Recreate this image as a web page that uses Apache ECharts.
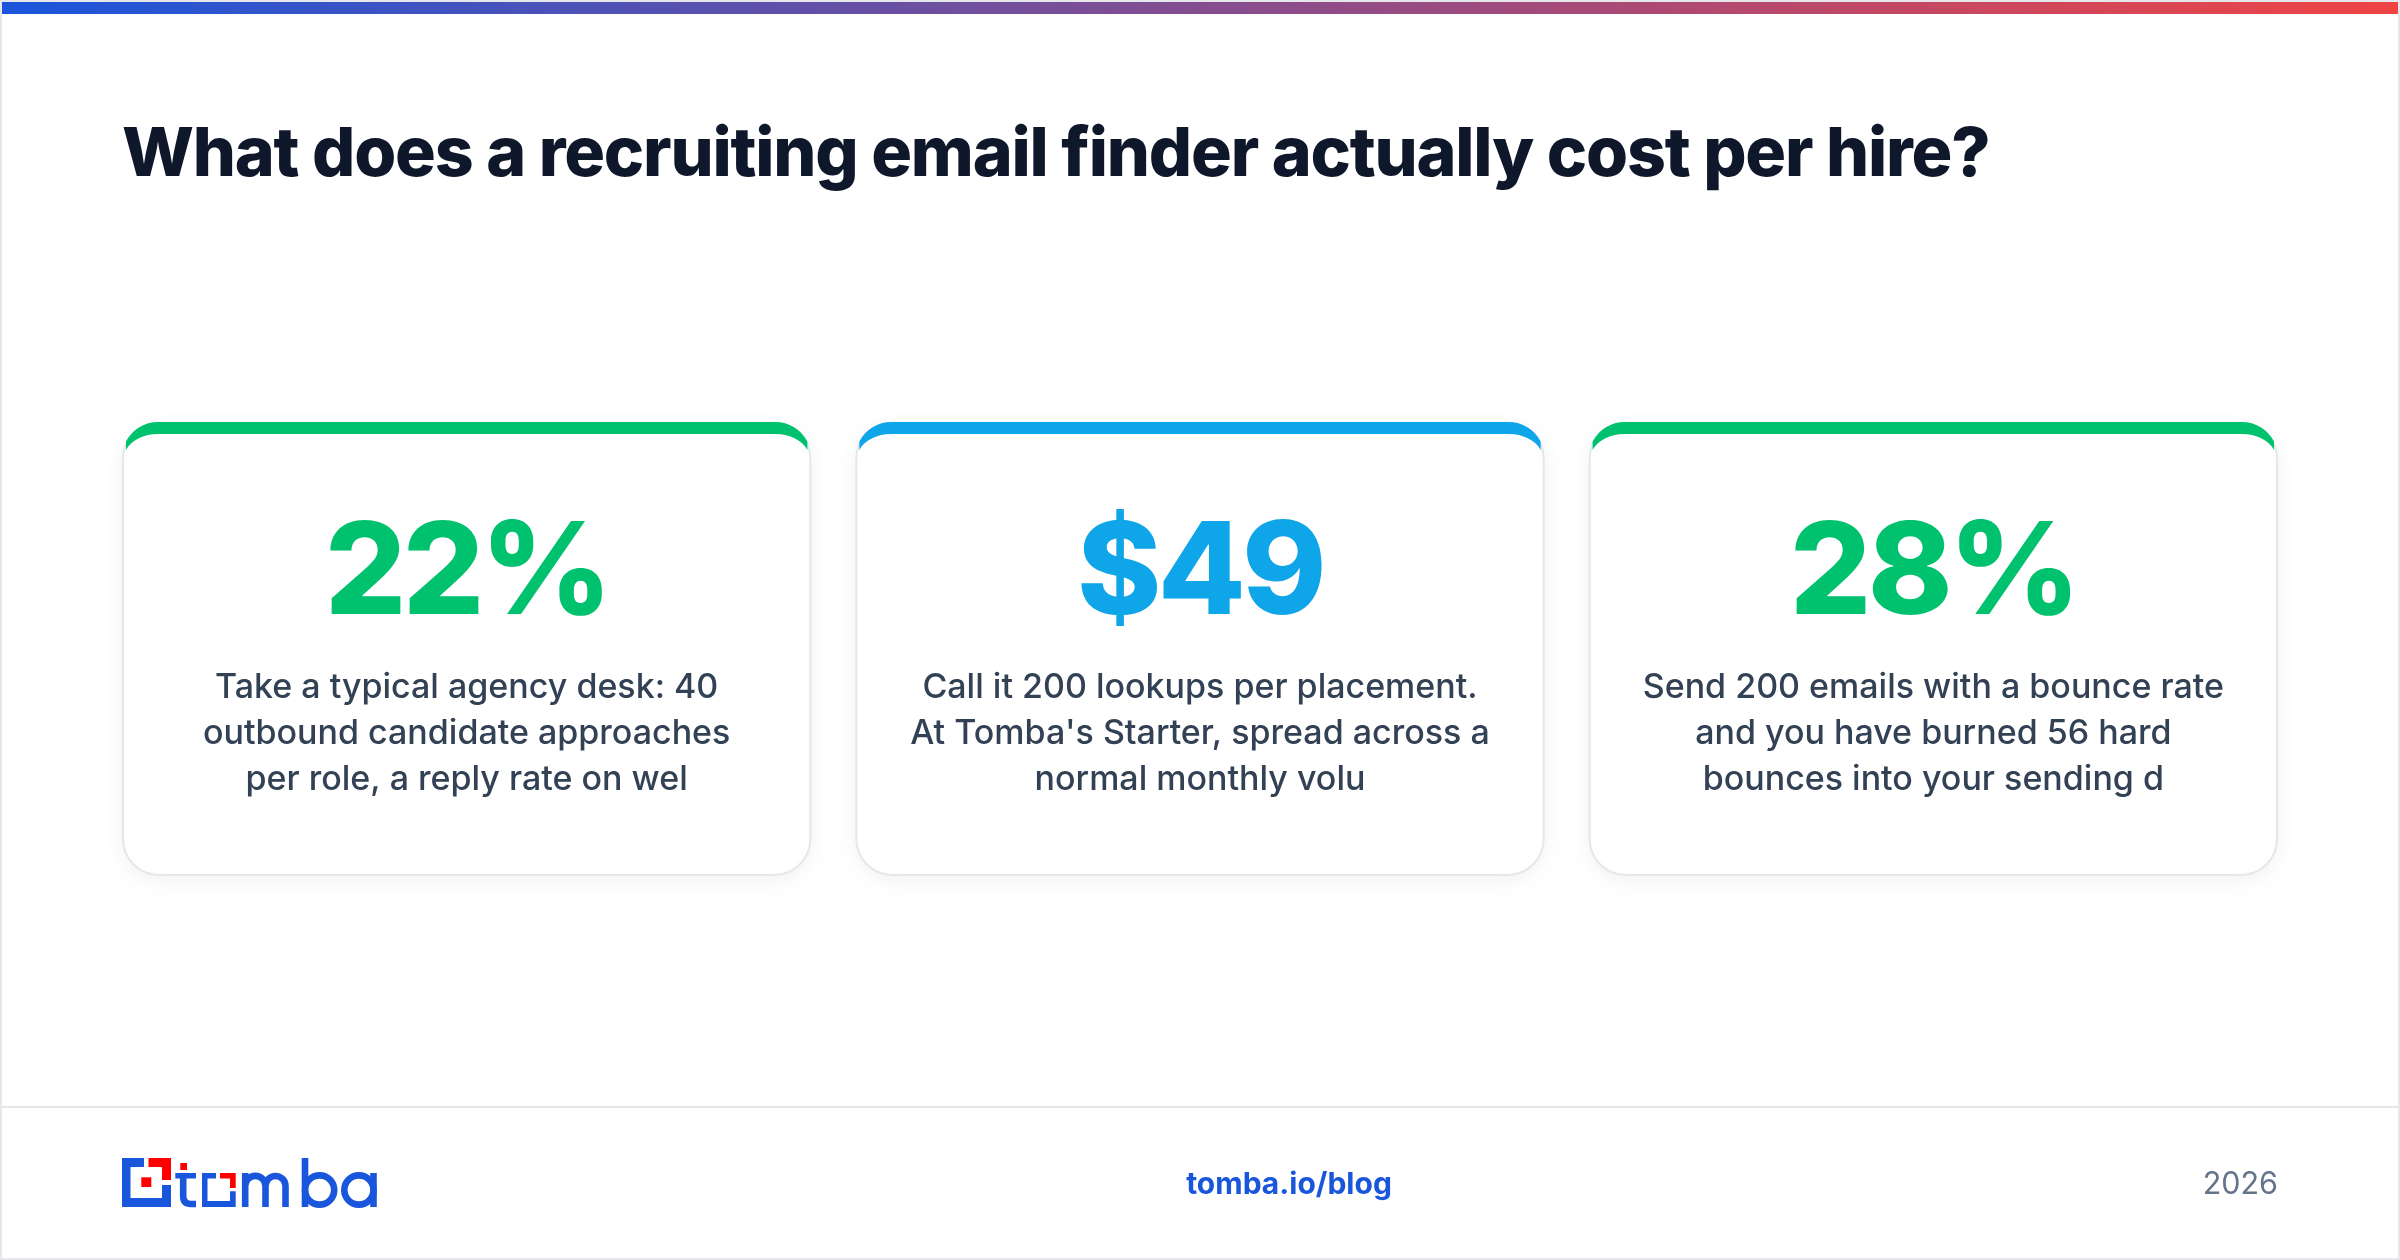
<!DOCTYPE html>
<html>
<head>
	<meta charset="utf-8">
	<title>Recruiting email finder cost</title>
	<style>html,body{margin:0;padding:0;background:#fff}#main{width:2400px;height:1260px}</style>
	<script src="https://cdn.jsdelivr.net/npm/echarts@6/dist/echarts.min.js"></script>
</head>
<body>
	<div id="main"></div>
<script>
	var titleText = 'What does a recruiting email finder actually cost per hire?';
	var statValues = ['22%', '$49', '28%'];
	var statColors = ['#00c26e', '#0ea5e9', '#00c26e'];
	var statLines = [
		['Take a typical agency desk: 40', 'outbound candidate approaches', 'per role, a reply rate on wel'],
		['Call it 200 lookups per placement.', "At Tomba's Starter, spread across a", 'normal monthly volu'],
		['Send 200 emails with a bounce rate', 'and you have burned 56 hard', 'bounces into your sending d']
	];
	var cardLeft = [122, 855.33, 1588.67];
	var cardWidth = 689.33;
	var footerLink = 'tomba.io/blog';
	var footerYear = '2026';

	var FONT = 'Inter';
	var BLUE = '#1a56db';
	var RED = '#ff0000';

	var els = [];
	var paths = [];
	// page frame
	els.push({type: 'rect', z: 1, shape: {x: 1, y: 1, width: 2398, height: 1258}, style: {fill: '#fff', stroke: '#e5e7eb', lineWidth: 2}});
	// top bar
	els.push({type: 'rect', z: 2, shape: {x: 2, y: 2, width: 2396, height: 12}, style: {fill: new echarts.graphic.LinearGradient(0, 0, 1, 0, [
		{offset: 0, color: '#1a56db'}, {offset: 1, color: '#ef4444'}])}});
	// title
	els.push({type: 'text', z: 6, zlevel: 1, x: 122, y: 156, style: {text: titleText, fill: '#0f172a', font: '800 68px ' + FONT, textVerticalAlign: 'middle'}});

	// cards
	var cardTop = 422, cardH = 454, r = 36;
	cardLeft.forEach(function (x, i) {
		var cx = x + cardWidth / 2;
		els.push({type: 'rect', z: 3, shape: {x: x + 1, y: cardTop + 1, width: cardWidth - 2, height: cardH - 2, r: r}, style: {fill: '#fff', stroke: '#e5e7eb', lineWidth: 2, shadowBlur: 24, shadowOffsetY: 4, shadowColor: 'rgba(15,23,42,0.06)'}});
		// coloured cap, thick on top, cut off where the corner meets the side border
		var xr = x + cardWidth;
		var t = cardTop;
		paths.push({d: 'M' + (x + 4) + ' ' + (t + 28) + 'L' + (x + 4) + ' ' + (t + 19.5) +
			'A' + r + ' ' + r + ' 0 0 1 ' + (x + r) + ' ' + t + 'H' + (xr - r) +
			'A' + r + ' ' + r + ' 0 0 1 ' + (xr - 4) + ' ' + (t + 19.5) + 'L' + (xr - 4) + ' ' + (t + 28) +
			'A' + (r - 2) + ' ' + (r - 12) + ' 0 0 0 ' + (xr - r) + ' ' + (t + 12) + 'H' + (x + r) +
			'A' + (r - 2) + ' ' + (r - 12) + ' 0 0 0 ' + (x + 4) + ' ' + (t + 28) + 'Z', fill: statColors[i]});
		els.push({type: 'text', z: 6, zlevel: 2, x: cx, y: 576, style: {text: statValues[i], fill: statColors[i], font: '800 128px ' + FONT, textAlign: 'center', textVerticalAlign: 'middle'}});
		statLines[i].forEach(function (line, k) {
			els.push({type: 'text', z: 5, x: cx, y: 688 + k * 46, style: {text: line, fill: '#334155', font: '500 34px ' + FONT, textAlign: 'center', textVerticalAlign: 'middle'}});
		});
	});

	// footer
	els.push({type: 'rect', z: 2, shape: {x: 2, y: 1106, width: 2396, height: 2}, style: {fill: '#e5e7eb'}});
	els.push({type: 'text', z: 5, x: 1289, y: 1185, style: {text: footerLink, fill: BLUE, font: '700 30px ' + FONT, textAlign: 'center', textVerticalAlign: 'middle'}});
	els.push({type: 'text', z: 5, x: 2278, y: 1185, style: {text: footerYear, fill: '#64748b', font: '400 30.5px ' + FONT, textAlign: 'right', textVerticalAlign: 'middle'}});

	// logo
	function logoFill(d, fill) { paths.push({d: d, fill: fill}); }
	function logoStroke(d) { paths.push({d: d, stroke: BLUE}); }
	logoFill('M122 1158H144V1167H130.500V1198H162V1185H171V1207H122Z', BLUE);
	logoFill('M148.500 1158H171V1180H162V1167H148.500Z', RED);
	logoFill('M141.300 1177.300H151.300V1187H141.300Z', RED);
	logoFill('M180.300 1163H187V1170H180.300Z', RED);
	logoFill('M175.300 1173H196V1178.500H175.300Z', BLUE);
	logoStroke('M183.200 1173V1196Q183.200 1204 191 1204H196');
	logoFill('M202 1173H216V1178.500H207.500V1201H230V1191.300H235.700V1207H202Z', BLUE);
	logoFill('M220 1173H235.700V1188H230V1178.500H220Z', RED);
	logoStroke('M245.200 1207V1173M245.200 1186A10.150 10.150 0 0 1 265.500 1186V1207M265.500 1186A10 10 0 0 1 285.500 1186V1207');
	logoStroke('M305 1158V1207');
	logoStroke('M305 1190A14.600 14.600 0 1 0 334.200 1190A14.600 14.600 0 1 0 305 1190Z');
	logoStroke('M344.300 1190A14.600 14.600 0 1 0 373.500 1190A14.600 14.600 0 1 0 344.300 1190Z');
	logoStroke('M373.500 1173V1207');

	var chart = echarts.init(document.getElementById('main'));
	// title and big numbers are set with tight tracking, each on its own canvas layer
	chart.getZr().painter.getLayer(1).ctx.letterSpacing = '-1.2px';
	chart.getZr().painter.getLayer(2).ctx.letterSpacing = '-3.8px';
	chart.setOption({
		animation: false,
		backgroundColor: '#fff',
		graphic: {elements: els},
		series: [{
			type: 'custom',
			coordinateSystem: 'none',
			z: 4,
			silent: true,
			data: [0],
			renderItem: function () {
				return {
					type: 'group',
					children: paths.map(function (p) {
						return {
							type: 'path',
							shape: {pathData: p.d},
							style: p.stroke ? {fill: 'none', stroke: p.stroke, lineWidth: 6.6} : {fill: p.fill}
						};
					})
				};
			}
		}]
	});
</script>
</body>
</html>
